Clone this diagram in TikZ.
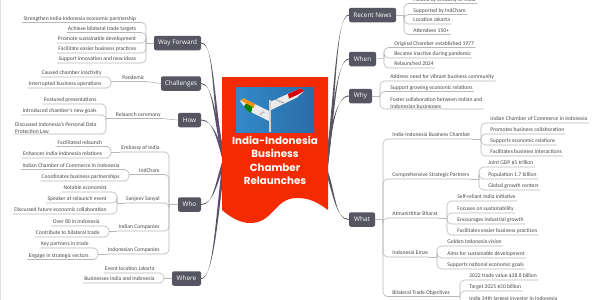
\documentclass[tikz,border=0pt]{standalone}
\usepackage{fontspec}
\setmainfont{Carlito}
\newfontfamily\titlefont{Poppins}
\newfontfamily\boxfont{Open Sans}
\usetikzlibrary{calc}
\definecolor{slate}{HTML}{565662}
\definecolor{ink}{HTML}{4A4A4A}
\definecolor{wire}{HTML}{B8B8BC}
\definecolor{banner}{HTML}{F42A00}
\definecolor{skyA}{HTML}{3389C8}
\definecolor{skyB}{HTML}{2A6DA8}
\tikzset{
  branch/.style={fill=slate,rounded corners=2pt,text=white,inner sep=0pt,align=center,
    font=\boxfont\fontsize{6.4}{7.5}\selectfont},
  leaf/.style={inner xsep=1.2pt,inner ysep=0.6pt,text=ink,align=left,text height=4.2pt,text depth=1.3pt,
    font=\fontsize{5.6}{7}\selectfont},
  tall/.style={text height={},text depth={}},
  wirepath/.style={draw=wire,line width=0.6pt,rounded corners=4.5pt},
  trunkfill/.style={fill=slate},
}
% leaf on the left or right of a junction: underline runs on to the bracket
\newcommand{\lleaf}[6][]{%
  \node[leaf,anchor=south east,#1] (#2) at (#4,#5) {#6};
  \draw[wirepath] (#2.south west) -- (#2.south east) -- (#2.south east -| #3) -- (#3);}
\newcommand{\rleaf}[6][]{%
  \node[leaf,anchor=south west,#1] (#2) at (#4,#5) {#6};
  \draw[wirepath] (#2.south east) -- (#2.south west) -- (#2.south west -| #3) -- (#3);}
% branch box with its tapered trunk to the banner
\newcommand{\trunk}[5]{%
  \fill[trunkfill] ($(#1)+(0,-.45)$) .. controls ($(#2)+(0,-.45)$) and ($(#3)+(-1.3*#5,0)$) .. ($(#4)+(-1.3*#5,0)$)
    -- ($(#4)+(1.3*#5,0)$) .. controls ($(#3)+(1.3*#5,0)$) and ($(#2)+(0,.45)$) .. ($(#1)+(0,.45)$) -- cycle;}
\begin{document}
\begin{tikzpicture}[x=1pt,y=-1pt]
\useasboundingbox (0,0) rectangle (600,300);
\fill[white] (0,0) rectangle (600,300);
\fill[black!12] (0,0) rectangle (1.2,300);

% branch boxes
\node[branch,minimum width=47pt,minimum height=14.5pt] (wayf) at (177.5,43) {Way Forward};
\node[branch,minimum width=40pt,minimum height=14.5pt] (chal) at (181,83.5) {Challenges};
\node[branch,minimum width=23pt,minimum height=14.5pt] (howb) at (189.5,120) {How};
\node[branch,minimum width=23pt,minimum height=14.5pt] (whob) at (189.5,204.5) {Who};
\node[branch,minimum width=29pt,minimum height=14.5pt] (wher) at (186.5,278.5) {Where};
\node[branch,minimum width=47pt,minimum height=14.5pt] (news) at (372.5,15) {Recent News};
\node[branch,minimum width=27pt,minimum height=14.5pt] (when) at (362.5,59) {When};
\node[branch,minimum width=23pt,minimum height=14.5pt] (whyb) at (360.5,96) {Why};
\node[branch,minimum width=26pt,minimum height=14.5pt] (what) at (362,219.5) {What};

% trunks, from each box into the banner
\coordinate (hubL) at (224,160);
\coordinate (hubR) at (326,170);
\trunk{wayf.east}{215,43}{212,105}{hubL}{1}
\trunk{chal.east}{213,83.5}{214,115}{hubL}{1}
\trunk{howb.east}{212,120}{217,135}{hubL}{1}
\trunk{whob.east}{213,204.5}{216,185}{hubL}{-1}
\trunk{wher.east}{213,278.5}{216,225}{hubL}{-1}
\trunk{news.west}{335,15}{335,110}{hubR}{-1}
\trunk{when.west}{336,59}{333,120}{hubR}{-1}
\trunk{whyb.west}{335,96}{330,135}{hubR}{-1}
\trunk{what.west}{335,219.5}{334,190}{hubR}{1}

% banner
\fill[banner] (222,77) -- (328,77) -- (328,210)
  .. controls (316,201) and (308,198) .. (297,198)
  .. controls (274,198) and (274,223) .. (250,223)
  .. controls (240,223) and (230,217) .. (222,210) -- cycle;
\node[font=\titlefont\bfseries\fontsize{10.3}{13.2}\selectfont,text=white,align=center,inner sep=0pt]
  (title) at (275,160.5) {India-Indonesia\\Business\\Chamber\\Relaunches};

% signpost picture
\shade[left color=skyA,right color=skyB] (236,87) rectangle (314,132);
\fill[black!18] (268.8,100) rectangle (271.2,132);
\fill[white!92!black] (240,101) -- (243.5,98.5) -- (269,111) -- (269,121) -- (247,110) -- cycle;
\fill[orange!85!yellow] (241,100.5) -- (243.5,98.5) -- (255,104) -- (253.5,108) -- cycle;
\fill[green!50!black] (244,106.5) -- (246,103.5) -- (252.5,107) -- (251,113) -- (247,110.2) -- cycle;
\fill[white!92!black] (271,101.5) -- (300,88.5) -- (304.5,90.5) -- (297,97.5) -- (271,110) -- cycle;
\fill[red!85!black] (288,94) -- (300,88.5) -- (304.5,90.5) -- (297,95) -- (289,98.5) -- cycle;
\node[font=\fontsize{2.3}{2.5}\selectfont,text=black!70,rotate=-24,inner sep=0pt] (signa) at (279.5,101.5) {INDONESIA};
\node[font=\fontsize{2.3}{2.5}\selectfont,text=black!70,rotate=24,inner sep=0pt] (signb) at (262,113.5) {INDIA};

% Way Forward
\coordinate (jw) at (146,43);
\draw[wirepath] (wayf.west) -- (jw);
\lleaf{w1}{jw}{137.5}{22.5}{Strengthen India-Indonesia economic partnership}
\lleaf{w2}{jw}{137.5}{32.5}{Achieve bilateral trade targets}
\lleaf{w3}{jw}{137.5}{43}{Promote sustainable development}
\lleaf{w4}{jw}{137.5}{53}{Facilitate easier business practices}
\lleaf{w5}{jw}{137.5}{63}{Support innovation and new ideas}

% Challenges
\node[leaf,anchor=south east] (pand) at (146,81.5) {Pandemic};
\draw[wire,line width=0.6pt] (chal.west) -- (pand.south east);
\coordinate (jc) at (111,81.5);
\draw[wirepath] (pand.south east) -- (jc);
\lleaf{c1}{jc}{103}{77}{Caused chamber inactivity}
\lleaf{c2}{jc}{103}{88}{Interrupted business operations}

% How
\node[leaf,anchor=south east] (rel) at (162,118.5) {Relaunch ceremony};
\draw[wire,line width=0.6pt] (howb.west) -- (rel.south east);
\coordinate (jh) at (106,118.5);
\draw[wirepath] (rel.south east) -- (jh);
\lleaf{h1}{jh}{98}{104}{Featured presentations}
\lleaf{h2}{jh}{98}{115}{Introduced chamber's new goals}
\lleaf[tall]{h3}{jh}{98}{134}{Discussed Indonesia's Personal Data\\Protection Law}

% Who
\coordinate (jwho) at (169,204.5);
\draw[wirepath] (whob.west) -- (jwho);
\lleaf{a}{jwho}{161}{152}{Embassy of India}
\lleaf{b}{jwho}{161}{174.5}{IndCham}
\lleaf{d}{jwho}{161}{203}{Sanjeev Sanyal}
\lleaf{e}{jwho}{161}{231}{Indian Companies}
\lleaf{f}{jwho}{161}{254}{Indonesian Companies}
\coordinate (ja) at (111,152);
\draw[wirepath] (a.south west) -- (ja);
\lleaf{a1}{ja}{103.5}{146.5}{Facilitated relaunch}
\lleaf{a2}{ja}{103.5}{158}{Enhances India-Indonesia relations}
\coordinate (jb) at (129,174.5);
\draw[wirepath] (b.south west) -- (jb);
\lleaf{b1}{jb}{121}{169.5}{Indian Chamber of Commerce in Indonesia}
\lleaf{b2}{jb}{121}{181}{Coordinates business partnerships}
\coordinate (jd) at (117,203);
\draw[wirepath] (d.south west) -- (jd);
\lleaf{d1}{jd}{108}{192}{Notable economist}
\lleaf{d2}{jd}{108}{203}{Speaker at relaunch event}
\lleaf{d3}{jd}{108}{214}{Discussed future economic collaboration}
\coordinate (je) at (109,231);
\draw[wirepath] (e.south west) -- (je);
\lleaf{e1}{je}{101}{226}{Over 80 in Indonesia}
\lleaf{e2}{je}{101}{237}{Contribute to bilateral trade}
\coordinate (jf) at (98,254);
\draw[wirepath] (f.south west) -- (jf);
\lleaf{f1}{jf}{90}{248}{Key partners in trade}
\lleaf{f2}{jf}{90}{259.5}{Engage in strategic sectors}

% Where
\coordinate (jwh) at (164,278.5);
\draw[wirepath] (wher.west) -- (jwh);
\lleaf{g1}{jwh}{156}{273}{Event location Jakarta}
\lleaf{g2}{jwh}{156}{283}{Businesses India and Indonesia}

% Recent News
\coordinate (jn) at (404,15);
\draw[wirepath] (news.east) -- (jn);
\rleaf{n1}{jn}{412}{3.5}{Hosted by Embassy of India}
\rleaf{n2}{jn}{412}{14.5}{Supported by IndCham}
\rleaf{n3}{jn}{412}{24}{Location Jakarta}
\rleaf{n4}{jn}{412}{34.5}{Attendees 150+}

% When
\coordinate (jm) at (384,58);
\draw[wirepath] (when.east) -- (jm);
\rleaf{m1}{jm}{393}{47.5}{Original Chamber established 1977}
\rleaf{m2}{jm}{393}{58}{Became inactive during pandemic}
\rleaf{m3}{jm}{393}{68}{Relaunched 2024}

% Why
\coordinate (jy) at (380,96);
\draw[wirepath] (whyb.east) -- (jy);
\rleaf{y1}{jy}{389}{81}{Address need for vibrant business community}
\rleaf{y2}{jy}{389}{91.5}{Support growing economic relations}
\rleaf[tall]{y3}{jy}{389}{109}{Foster collaboration between Indian and\\Indonesian businesses}

% What
\coordinate (jq) at (383,219.5);
\draw[wirepath] (what.east) -- (jq);
\rleaf{p}{jq}{391}{139}{India-Indonesia Business Chamber}
\rleaf{q}{jq}{391}{179}{Comprehensive Strategic Partners}
\rleaf{r}{jq}{391}{218}{Atmanirbhar Bharat}
\rleaf{s}{jq}{391}{257}{Indonesia Emas}
\rleaf{t}{jq}{391}{296.5}{Bilateral Trade Objectives}
\coordinate (jp) at (481,139);
\draw[wirepath] (p.south east) -- (jp);
\rleaf{p1}{jp}{489}{123}{Indian Chamber of Commerce in Indonesia}
\rleaf{p2}{jp}{489}{134}{Promotes business collaboration}
\rleaf{p3}{jp}{489}{145}{Supports economic relations}
\rleaf{p4}{jp}{489}{156}{Facilitates business interactions}
\coordinate (jq2) at (479,179);
\draw[wirepath] (q.south east) -- (jq2);
\rleaf{q1}{jq2}{487}{167}{Joint GDP \$5 trillion}
\rleaf{q2}{jq2}{487}{179}{Population 1.7 billion}
\rleaf{q3}{jq2}{487}{190}{Global growth centers}
\coordinate (jr) at (447,218);
\draw[wirepath] (r.south east) -- (jr);
\rleaf{r1}{jr}{456}{201}{Self-reliant India initiative}
\rleaf{r2}{jr}{456}{213}{Focuses on sustainability}
\rleaf{r3}{jr}{456}{224}{Encourages industrial growth}
\rleaf{r4}{jr}{456}{235}{Facilitates easier business practices}
\coordinate (js) at (437,257);
\draw[wirepath] (s.south east) -- (js);
\rleaf{s1}{js}{446}{246}{Golden Indonesia vision}
\rleaf{s2}{js}{446}{258}{Aims for sustainable development}
\rleaf{s3}{js}{446}{269}{Supports national economic goals}
\coordinate (jt) at (460,296.5);
\draw[wirepath] (t.south east) -- (jt);
\rleaf{t1}{jt}{468}{280}{2022 trade value \$38.8 billion}
\rleaf{t2}{jt}{468}{291}{Target 2025 \$50 billion}
\rleaf{t3}{jt}{468}{303}{India 34th largest investor in Indonesia}
\end{tikzpicture}
\end{document}
